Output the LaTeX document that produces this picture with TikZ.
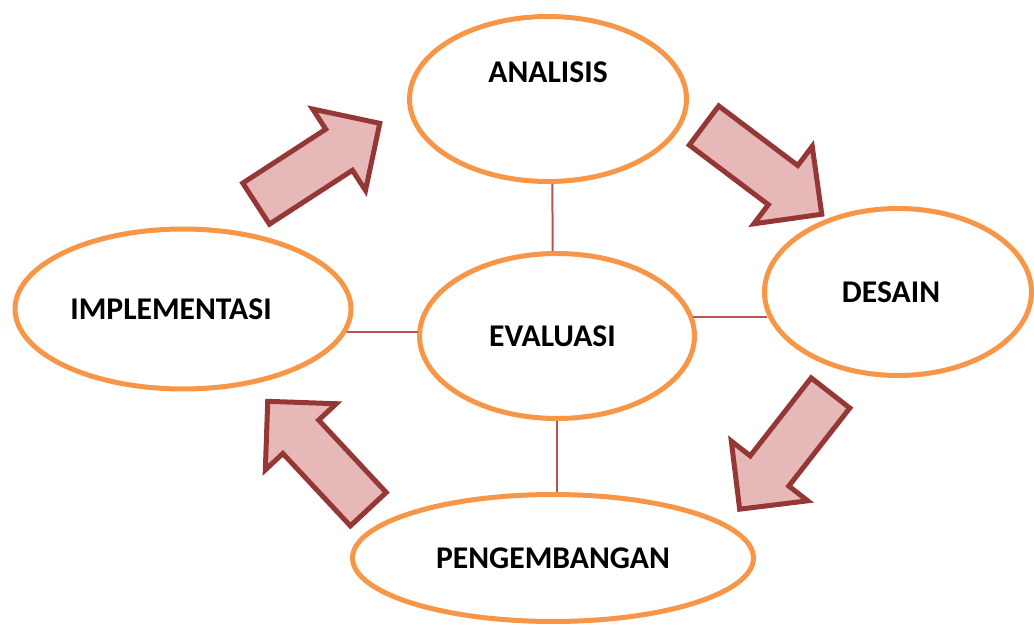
\documentclass[tikz,border=0pt]{standalone}
\usepackage{fontspec}
\setmainfont{Carlito}
\usetikzlibrary{shapes.geometric, shapes.arrows}

\definecolor{ovalorange}{HTML}{F79646}
\definecolor{arrowfill}{HTML}{E6B9B8}
\definecolor{arrowdraw}{HTML}{953735}
\definecolor{linkred}{HTML}{C0504D}

\begin{document}
\begin{tikzpicture}[x=0.02cm, y=-0.02cm,
        stage/.style={ellipse, draw=ovalorange, line width=0.1cm, font=\fontsize{18}{22}\selectfont\bfseries},
        bigarrow/.style={single arrow, draw=arrowdraw, fill=arrowfill, line width=0.1cm, minimum height=2.95cm, inner ysep=0.44cm, single arrow head extend=0.48cm, anchor=tail}]
            \useasboundingbox (0,0) rectangle (1034,625);

            \node[stage, minimum width=5.54cm, minimum height=3.3cm, text depth=1.08cm] (analisis) at (548,99) {ANALISIS};
            \node[stage, minimum width=5.34cm, minimum height=3.34cm] (desain) at (898,292) {\hspace*{-0.28cm}DESAIN};
            \node[stage, minimum width=5.5cm, minimum height=3.3cm] (evaluasi) at (557,336) {\hspace*{-0.18cm}EVALUASI};
            \node[stage, minimum width=6.72cm, minimum height=3.2cm] (implementasi) at (183,309) {\hspace*{-0.48cm}IMPLEMENTASI};
            \node[stage, minimum width=8.02cm, minimum height=2.54cm] (pengembangan) at (553,558) {PENGEMBANGAN};

            \draw[linkred, line width=0.04cm] (analisis.-87) -- (evaluasi.93);
            \draw[linkred, line width=0.04cm] (evaluasi.8) -- (evaluasi.8 -| desain.190);
            \draw[linkred, line width=0.04cm] (implementasi.-8) -- (implementasi.-8 -| evaluasi.177);
            \draw[linkred, line width=0.04cm] (evaluasi.south) -- (evaluasi.south |- pengembangan.north);

            \node[bigarrow, rotate=33] (arrowa) at (254,205) {};
            \node[bigarrow, rotate=-37] (arrowb) at (702,124) {};
            \node[bigarrow, rotate=-128] (arrowc) at (832,391) {};
            \node[bigarrow, rotate=133] (arrowd) at (370,511) {};
        \end{tikzpicture}
\end{document}
